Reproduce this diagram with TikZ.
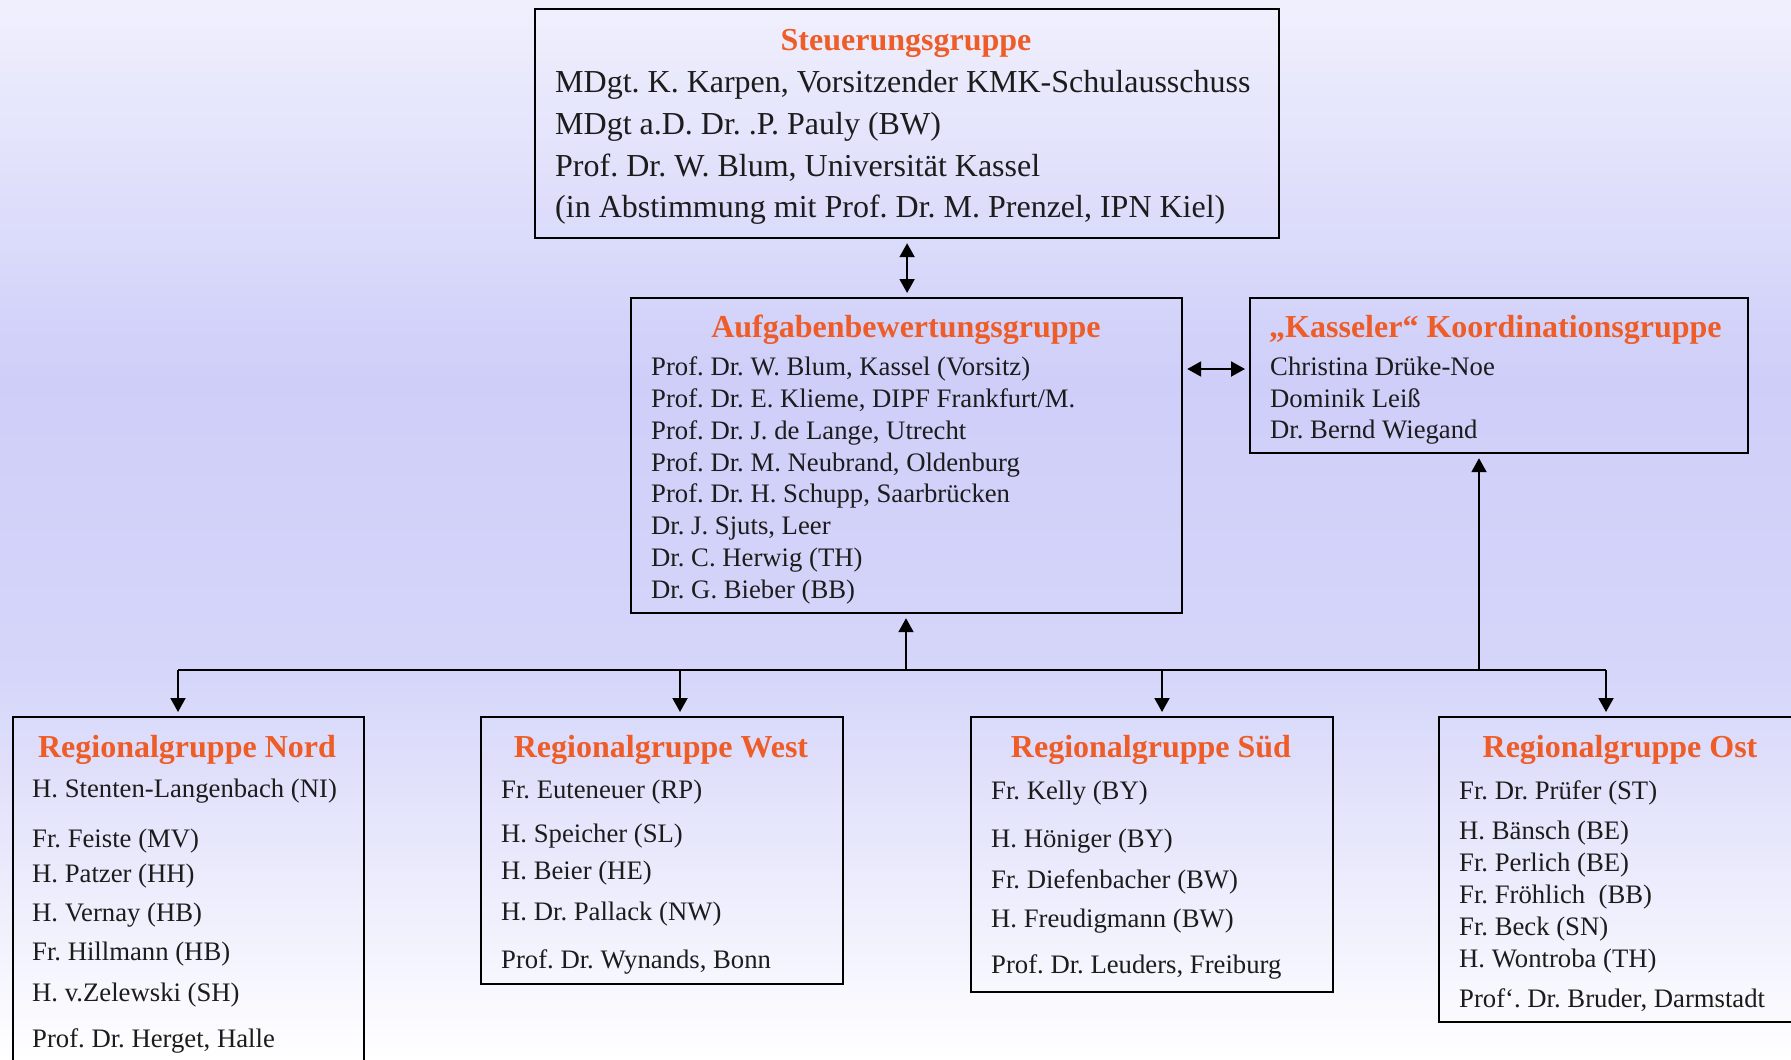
\documentclass[tikz,border=0pt]{standalone}
\usepackage{fontspec}
\setmainfont{Liberation Serif}
\usetikzlibrary{arrows.meta}
\definecolor{ttl}{RGB}{238,92,40}
\definecolor{bgtop}{RGB}{240,240,253}
\definecolor{bgmid}{RGB}{206,206,249}
\definecolor{bglow}{RGB}{214,214,250}
\definecolor{txt}{RGB}{28,28,28}
\frenchspacing
\begin{document}
\frenchspacing
\begin{tikzpicture}[x=1pt,y=-1pt,
  box/.style={draw=black,line width=2.2pt,inner sep=0pt,anchor=north west},
  ttlf/.style={font=\fontsize{32}{32}\selectfont\bfseries\frenchspacing,text=ttl,inner sep=0pt,anchor=base},
  big/.style={font=\fontsize{32}{32}\selectfont\frenchspacing,text=txt,inner sep=0pt,anchor=base west},
  sml/.style={font=\fontsize{26.7}{27}\selectfont\frenchspacing,text=txt,inner sep=0pt,anchor=base west},
  con/.style={line width=2pt},
  tip/.style={-{Triangle[width=15pt,length=14pt]}},
  dtip/.style={{Triangle[width=15pt,length=14pt]}-{Triangle[width=15pt,length=14pt]}},
]
\useasboundingbox (0,0) rectangle (1791,1060);
\path[clip] (0,0) rectangle (1791,1060);
% background
\shade[top color=bgtop,bottom color=bgmid] (0,0) rectangle (1791,380);
\shade[top color=bgmid,bottom color=bglow] (0,379) rectangle (1791,680);
\shade[top color=bglow,bottom color=white] (0,679) rectangle (1791,1060);

% boxes
\node[box,minimum width=744pt,minimum height=229pt] (steuer) at (534,8) {};
\node[box,minimum width=551pt,minimum height=315pt] (aufg) at (630,297) {};
\node[box,minimum width=498pt,minimum height=155pt] (kas) at (1249,297) {};
\node[box,minimum width=351pt,minimum height=380pt] (nord) at (12,716) {};
\node[box,minimum width=362pt,minimum height=267pt] (west) at (480,716) {};
\node[box,minimum width=362pt,minimum height=275pt] (sued) at (970,716) {};
\node[box,minimum width=400pt,minimum height=305pt] (ost) at (1438,716) {};

% Steuerungsgruppe
\node[ttlf] (steuer-t) at (906,50) {Steuerungsgruppe};
\foreach \y/\t [count=\i] in {92/{MDgt. K. Karpen, Vorsitzender KMK-Schulausschuss},
  134/{MDgt a.D. Dr. .P. Pauly (BW)},
  176/{Prof. Dr. W. Blum, Universität Kassel},
  217/{(in Abstimmung mit Prof. Dr. M. Prenzel, IPN Kiel)}}
  \node[big] (steuer-\i) at (555,\y) {\t};

% Aufgabenbewertungsgruppe
\node[ttlf] (aufg-t) at (906,337) {Aufgabenbewertungsgruppe};
\foreach \y/\t [count=\i] in {375/{Prof. Dr. W. Blum, Kassel (Vorsitz)},
  407/{Prof. Dr. E. Klieme, DIPF Frankfurt/M.},
  439/{Prof. Dr. J. de Lange, Utrecht},
  471/{Prof. Dr. M. Neubrand, Oldenburg},
  502/{Prof. Dr. H. Schupp, Saarbrücken},
  534/{Dr. J. Sjuts, Leer},
  566/{Dr. C. Herwig (TH)},
  598/{Dr. G. Bieber (BB)}}
  \node[sml] (aufg-\i) at (651,\y) {\t};

% Kasseler
\node[ttlf,anchor=base west] (kas-t) at (1269,337) {,,Kasseler“ Koordinationsgruppe};
\foreach \y/\t [count=\i] in {375/{Christina Drüke-Noe},
  407/{Dominik Leiß},
  438/{Dr. Bernd Wiegand}}
  \node[sml] (kas-\i) at (1270,\y) {\t};

% Nord
\node[ttlf] (nord-t) at (187,757) {Regionalgruppe Nord};
\foreach \y/\t [count=\i] in {797/{H. Stenten-Langenbach (NI)},
  847/{Fr. Feiste (MV)},
  882/{H. Patzer (HH)},
  921/{H. Vernay (HB)},
  960/{Fr. Hillmann (HB)},
  1001/{H. v.Zelewski (SH)},
  1047/{Prof. Dr. Herget, Halle}}
  \node[sml] (nord-\i) at (32,\y) {\t};

% West
\node[ttlf] (west-t) at (661,757) {Regionalgruppe West};
\foreach \y/\t [count=\i] in {798/{Fr. Euteneuer (RP)},
  842/{H. Speicher (SL)},
  879/{H. Beier (HE)},
  920/{H. Dr. Pallack (NW)},
  968/{Prof. Dr. Wynands, Bonn}}
  \node[sml] (west-\i) at (501,\y) {\t};

% Sued
\node[ttlf] (sued-t) at (1151,757) {Regionalgruppe Süd};
\foreach \y/\t [count=\i] in {799/{Fr. Kelly (BY)},
  847/{H. Höniger (BY)},
  888/{Fr. Diefenbacher (BW)},
  927/{H. Freudigmann (BW)},
  973/{Prof. Dr. Leuders, Freiburg}}
  \node[sml] (sued-\i) at (991,\y) {\t};

% Ost
\node[ttlf] (ost-t) at (1620,757) {Regionalgruppe Ost};
\foreach \y/\t [count=\i] in {799/{Fr. Dr. Prüfer (ST)},
  839/{H. Bänsch (BE)},
  871/{Fr. Perlich (BE)},
  903/{Fr. Fröhlich\ \ (BB)},
  935/{Fr. Beck (SN)},
  967/{H. Wontroba (TH)},
  1007/{Prof‘. Dr. Bruder, Darmstadt}}
  \node[sml] (ost-\i) at (1459,\y) {\t};

% connectors
\coordinate (hy) at (0,369);
\coordinate (bn) at (178,670);
\coordinate (bw) at (680,670);
\coordinate (bs) at (1162,670);
\coordinate (bo) at (1606,670);
\coordinate (bk) at (1479,670);
\coordinate (bus) at (906,670);

\draw[con,dtip,shorten <=4pt,shorten >=4pt] (steuer.south) -- (steuer.south |- aufg.north);
\draw[con,dtip,shorten <=4pt,shorten >=4pt] (aufg.east |- hy) -- (kas.west |- hy);
\draw[con] (bn) -- (bo);
\draw[con,tip,shorten >=4pt] (bus) -- (bus |- aufg.south);
\draw[con,tip,shorten >=4pt] (bk) -- (bk |- kas.south);
\draw[con,tip,shorten >=4pt] (bn) -- (bn |- nord.north);
\draw[con,tip,shorten >=4pt] (bw) -- (bw |- west.north);
\draw[con,tip,shorten >=4pt] (bs) -- (bs |- sued.north);
\draw[con,tip,shorten >=4pt] (bo) -- (bo |- ost.north);
\end{tikzpicture}
\end{document}
